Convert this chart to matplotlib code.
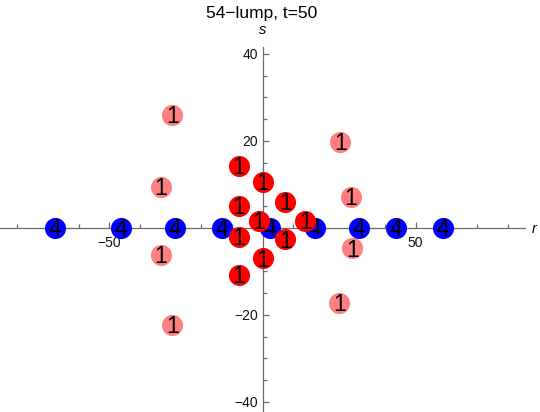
import matplotlib
matplotlib.use("Agg")
import matplotlib.pyplot as plt
from matplotlib.ticker import FixedLocator, MultipleLocator

plt.rcParams['font.family'] = ['Liberation Sans', 'DejaVu Sans']

# lump positions (r, s) and their charge labels
blue_r = [-67.9, -46.1, -28.7, -13.2, 2.3, 17.2, 31.5, 43.6, 58.8]
blue_s = [0, 0, 0, 0, 0, 0, 0, 0, 0]
blue_lab = ["4"] * 9

pink_r = [-29.5, 25.4, -33.1, 28.9, -33.1, 29.3, 25.1, -29.5]
pink_s = [26.0, 19.8, 9.5, 7.2, -6.2, -4.7, -17.3, -22.3]
pink_lab = ["1"] * 8

red_r = [-7.7, 0.1, 7.5, -7.7, -1.2, 14.0, -7.7, 7.5, 0.1, -7.7]
red_s = [14.3, 10.6, 6.0, 5.1, 1.7, 1.7, -2.0, -2.6, -7.0, -10.8]
red_lab = ["1"] * 10

x_major = [-50, 50]
x_major_labels = ["\u221250", "50"]
y_major = [-40, -20, 20, 40]
y_major_labels = ["\u221240", "\u221220", "20", "40"]

W, H = 540, 412
fig = plt.figure(figsize=(W / 100, H / 100), dpi=100)
ax = fig.add_axes([0, 0, 525 / W, (H - 47) / H])
ax.set_xlim(-85.7, 85.7)
ax.set_ylim(-42.3, 41.6)

axis_col = "#6b6b6b"
for side in ["top", "right"]:
    ax.spines[side].set_visible(False)
for side in ["left", "bottom"]:
    ax.spines[side].set_position("zero")
    ax.spines[side].set_color(axis_col)
    ax.spines[side].set_linewidth(0.9)

ax.xaxis.set_major_locator(FixedLocator(x_major))
ax.set_xticklabels(x_major_labels)
ax.xaxis.set_minor_locator(MultipleLocator(10))
ax.yaxis.set_major_locator(FixedLocator(y_major))
ax.set_yticklabels(y_major_labels)
ax.yaxis.set_minor_locator(MultipleLocator(5))
ax.tick_params(which="both", direction="in", color=axis_col, width=0.9,
               labelsize=10, labelcolor="#111111")
ax.tick_params(which="major", length=4.5)
ax.tick_params(axis="x", which="major", pad=6)
ax.tick_params(axis="y", which="major", pad=3)
ax.tick_params(which="minor", length=3)

z = 3
groups = [(pink_r, pink_s, pink_lab, "#ff8080"),
          (blue_r, blue_s, blue_lab, "#0000ff"),
          (red_r, red_s, red_lab, "#ff0000")]
for rr, ss, labs, col in groups:
    for r, s, lab in zip(rr, ss, labs):
        ax.plot(r, s, "o", ms=15.2, color=col, mec="none", zorder=z, clip_on=False)
        ax.text(r, s - 0.4, lab, ha="center", va="center", fontsize=16.5,
                color="black", zorder=z + 1)
        z += 2

fig.text(262 / W, 1 - 18 / H, "54\u2212lump, t=50", ha="center", va="baseline",
         fontsize=12.5)
fig.text(262.5 / W, 1 - 34.5 / H, "s", ha="center", va="baseline",
         fontsize=10.5, style="italic")
fig.text(532 / W, 1 - 233 / H, "r", ha="left", va="baseline",
         fontsize=10.5, style="italic")

fig.savefig("out.png", dpi=100)
